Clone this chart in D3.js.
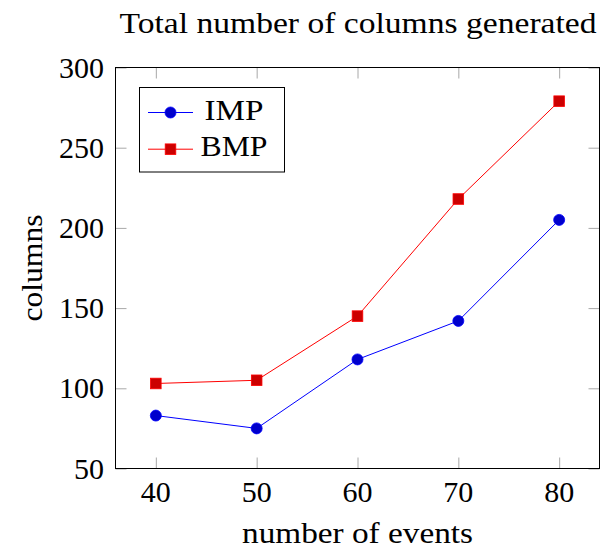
<!DOCTYPE html>
<html>
<head>
<meta charset="utf-8">
<script src="https://cdn.jsdelivr.net/npm/d3@7"></script>
<style>
  html, body { margin: 0; padding: 0; background: #fff; }
</style>
</head>
<body>
<svg id="chart" width="603" height="552"></svg>
<script>
// Number of events on the x axis
const events = [40, 50, 60, 70, 80];
// Total columns generated by each method
const impColumns = [83, 75, 118, 142, 205];
const bmpColumns = [103, 105, 145, 218, 279];
// Axis ticks
const xTicks = [40, 50, 60, 70, 80];
const yTicks = [50, 100, 150, 200, 250, 300];

const seriesNames = ["IMP", "BMP"];
const titleText = "Total number of columns generated";
const xLabelText = "number of events";
const yLabelText = "columns";

const series = [
  { name: seriesNames[0], values: impColumns, line: "#0000ff", fill: "#0000cc", mark: "circle", labelWidth: 59 },
  { name: seriesNames[1], values: bmpColumns, line: "#ff0000", fill: "#cc0000", mark: "square", labelWidth: 67 }
];

const serif = "'Liberation Serif', 'Times New Roman', 'DejaVu Serif', serif";
const svg = d3.select("#chart")
  .attr("font-family", serif)
  .style("font-family", serif);
const plotLeft = 115.5, plotRight = 599.5, plotTop = 67.5, plotBottom = 468.5;
const fontSize = 30;
const tickLen = 11;
const tickColor = "#a8a8a8";

const x = d3.scaleLinear().domain([36, 84]).range([plotLeft, plotRight]);
const y = d3.scaleLinear().domain([50, 300]).range([plotBottom, plotTop]);

// Inward ticks on all four sides
const g = svg.append("g");
g.append("g").attr("transform", `translate(0,${plotBottom})`)
  .call(d3.axisTop(x).tickValues(xTicks).tickSize(tickLen).tickFormat(""));
g.append("g").attr("transform", `translate(0,${plotTop})`)
  .call(d3.axisBottom(x).tickValues(xTicks).tickSize(tickLen).tickFormat(""));
g.append("g").attr("transform", `translate(${plotLeft},0)`)
  .call(d3.axisRight(y).tickValues(yTicks).tickSize(tickLen).tickFormat(""));
g.append("g").attr("transform", `translate(${plotRight},0)`)
  .call(d3.axisLeft(y).tickValues(yTicks).tickSize(tickLen).tickFormat(""));
g.selectAll(".domain").remove();
g.selectAll(".tick line").attr("stroke", tickColor).attr("stroke-width", 1);

// Tick labels
svg.append("g").selectAll("text").data(xTicks).join("text")
  .attr("x", d => x(d)).attr("y", 502)
  .attr("text-anchor", "middle").attr("font-size", fontSize)
  .attr("font-family", serif)
  .text(d => d);
svg.append("g").selectAll("text").data(yTicks).join("text")
  .attr("x", 104).attr("y", d => y(d) + 10)
  .attr("text-anchor", "end").attr("font-size", fontSize)
  .attr("font-family", serif)
  .text(d => d);

// Plot frame
svg.append("rect")
  .attr("x", plotLeft).attr("y", plotTop)
  .attr("width", plotRight - plotLeft).attr("height", plotBottom - plotTop)
  .attr("fill", "none").attr("stroke", "#000").attr("stroke-width", 1);

// Series lines and markers
const line = d3.line().x((d, i) => x(events[i])).y(d => y(d));
function drawMark(sel, s, cx, cy) {
  if (s.mark === "circle") {
    sel.append("circle").attr("cx", cx).attr("cy", cy).attr("r", 5.5)
      .attr("fill", s.fill).attr("stroke", s.line).attr("stroke-width", 0.8);
  } else {
    sel.append("rect").attr("x", cx - 5.3).attr("y", cy - 5.3)
      .attr("width", 10.6).attr("height", 10.6)
      .attr("fill", s.fill).attr("stroke", s.line).attr("stroke-width", 0.8);
  }
}
series.forEach(s => {
  const sg = svg.append("g");
  sg.append("path").datum(s.values).attr("d", line)
    .attr("fill", "none").attr("stroke", s.line).attr("stroke-width", 1);
  s.values.forEach((v, i) => drawMark(sg, s, x(events[i]), y(v)));
});

// Legend
const lg = svg.append("g");
lg.append("rect").attr("x", 139.5).attr("y", 87.5).attr("width", 145).attr("height", 84.5)
  .attr("fill", "#fff").attr("stroke", "#000").attr("stroke-width", 1);
series.forEach((s, i) => {
  const cy = 112.5 + i * 36.7;
  lg.append("line").attr("x1", 148).attr("x2", 193).attr("y1", cy).attr("y2", cy)
    .attr("stroke", s.line).attr("stroke-width", 1);
  drawMark(lg, s, 170.5, cy);
  lg.append("text").attr("x", 234).attr("y", cy + 7)
    .attr("text-anchor", "middle").attr("font-size", fontSize)
    .attr("font-family", serif)
    .attr("textLength", s.labelWidth).attr("lengthAdjust", "spacingAndGlyphs")
    .text(s.name);
});

// Title and axis labels
svg.append("text").attr("x", 358).attr("y", 33)
  .attr("text-anchor", "middle").attr("font-size", fontSize)
  .attr("font-family", serif)
  .attr("textLength", 477).attr("lengthAdjust", "spacingAndGlyphs")
  .text(titleText);
svg.append("text").attr("x", 357.5).attr("y", 543)
  .attr("text-anchor", "middle").attr("font-size", fontSize)
  .attr("font-family", serif)
  .attr("textLength", 231).attr("lengthAdjust", "spacingAndGlyphs")
  .text(xLabelText);
svg.append("text")
  .attr("transform", `translate(42,${(plotTop + plotBottom) / 2}) rotate(-90)`)
  .attr("text-anchor", "middle").attr("font-size", fontSize)
  .attr("font-family", serif)
  .attr("textLength", 107).attr("lengthAdjust", "spacingAndGlyphs")
  .text(yLabelText);
</script>
</body>
</html>
